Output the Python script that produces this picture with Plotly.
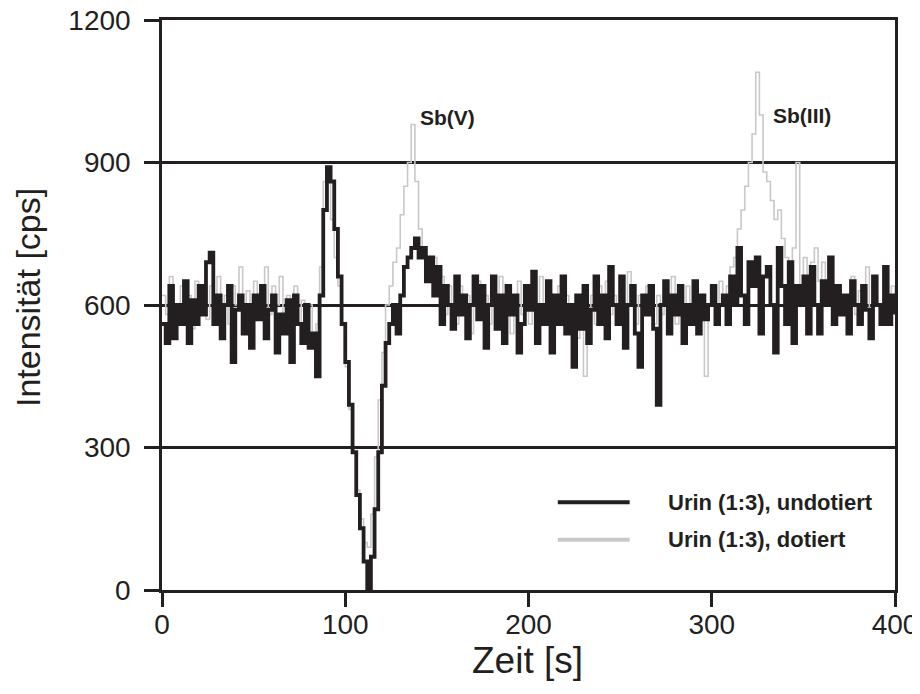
import numpy as np
import plotly.graph_objects as go

# Zeit in s (2-s-Raster)
step = 2
undotiert = [
    560, 520, 640, 530, 600, 560, 650, 520, 610, 560, 640, 580, 690, 710, 560, 620, 530, 600, 640, 480,
    590, 620, 540, 600, 510, 620, 570, 640, 530, 590, 620, 500, 580, 540, 610, 480, 620, 560, 520, 600,
    510, 540, 450, 620, 800, 890, 860, 760, 660, 560, 480, 390, 290, 200, 130, 60, 0, 70, 170, 290,
    430, 520, 560, 600, 540, 620, 680, 700, 720, 740, 700, 720, 650, 700, 620, 680, 560, 640, 600, 550,
    660, 580, 620, 530, 600, 660, 570, 640, 510, 600, 660, 550, 620, 520, 640, 580, 620, 500, 560, 640,
    590, 670, 520, 600, 560, 650, 500, 620, 560, 660, 540, 600, 470, 620, 550, 640, 520, 590, 660, 560,
    620, 530, 680, 600, 560, 660, 510, 600, 640, 540, 470, 620, 580, 640, 550, 390, 600, 650, 540, 620,
    580, 640, 520, 600, 560, 650, 540, 620, 570, 600, 640, 560, 600, 620, 560, 660, 600, 720, 620, 560,
    690, 640, 700, 540, 660, 680, 600, 500, 720, 640, 560, 690, 520, 640, 600, 660, 540, 680, 600, 540,
    650, 600, 700, 560, 640, 580, 620, 540, 650, 600, 560, 640, 590, 530, 660, 600, 560, 680, 560, 620,
    580,
]
dotiert = [
    620, 580, 660, 600, 560, 640, 590, 620, 550, 650, 600, 630, 570, 640, 600, 660, 580, 620, 560, 640,
    600, 680, 590, 630, 560, 650, 600, 620, 680, 580, 640, 600, 660, 570, 620, 590, 640, 560, 610, 540,
    600, 520, 560, 680, 860, 870, 780, 700, 640, 560, 470, 380, 290, 210, 150, 100, 90, 160, 280, 400,
    500, 600, 640, 690, 720, 790, 850, 900, 980, 860, 760, 720, 700, 660, 700, 620, 660, 580, 640, 600,
    560, 640, 590, 620, 540, 610, 650, 580, 620, 560, 640, 590, 660, 570, 620, 540, 600, 650, 580, 620,
    560, 640, 600, 660, 570, 620, 540, 600, 640, 580, 620, 560, 600, 530, 600, 450, 580, 620, 560, 640,
    600, 650, 580, 620, 560, 640, 590, 670, 600, 560, 620, 580, 640, 600, 560, 620, 580, 640, 600, 660,
    560, 620, 590, 640, 580, 620, 560, 600, 450, 600, 620, 580, 650, 600, 640, 680, 700, 760, 800, 850,
    900, 960, 1090, 1000, 880, 860, 820, 780, 800, 740, 700, 680, 720, 900, 640, 700, 660, 690, 720, 650,
    690, 620, 660, 600, 640, 580, 620, 600, 660, 580, 630, 600, 680, 580, 640, 600, 560, 650, 600, 640,
    620,
]
zeit_u = np.arange(len(undotiert)) * step
zeit_d = np.arange(len(dotiert)) * step

x_ticks = [0, 100, 200, 300, 400]
y_ticks = [0, 300, 600, 900, 1200]
peak_labels = ["Sb(V)", "Sb(III)"]
peak_x = [156, 349]
peak_y = [995, 1000]
series_names = ["Urin (1:3), undotiert", "Urin (1:3), dotiert"]

FONT = "Liberation Sans, Arial, sans-serif"
INK = "#231f20"
GREY = "#c8c8c8"

fig = go.Figure()
fig.add_trace(go.Scatter(
    x=zeit_d, y=dotiert, mode="lines", line=dict(color=GREY, width=1.6, shape="hv"),
    name=series_names[1], showlegend=False))
fig.add_trace(go.Scatter(
    x=zeit_u, y=undotiert, mode="lines", line=dict(color=INK, width=3.8, shape="hv"),
    name=series_names[0], showlegend=False))

for lab, px, py in zip(peak_labels, peak_x, peak_y):
    fig.add_annotation(x=px, y=py, text=f"<b>{lab}</b>", showarrow=False,
                       font=dict(family=FONT, size=21, color=INK))

# Legende (Linienmuster + Text)
for name, col, yy in zip(series_names, [INK, GREY], [0.154, 0.088]):
    fig.add_shape(type="line", xref="paper", yref="paper", x0=0.540, x1=0.638, y0=yy, y1=yy,
                  line=dict(color=col, width=4))
    fig.add_annotation(xref="paper", yref="paper", x=0.688, y=yy, xanchor="left", yanchor="middle",
                       text=f"<b>{name}</b>", showarrow=False,
                       font=dict(family=FONT, size=22, color=INK))

# Achsentitel
fig.add_annotation(xref="paper", yref="paper", x=(527 - 162) / 733, y=(590 - 660) / 570,
                   text="Zeit [s]", showarrow=False, xanchor="center", yanchor="middle",
                   font=dict(family=FONT, size=37, color=INK))
fig.add_annotation(xref="paper", yref="paper", x=(28 - 162) / 733, y=(590 - 298) / 570,
                   text="Intensität [cps]", showarrow=False, textangle=-90,
                   xanchor="center", yanchor="middle",
                   font=dict(family=FONT, size=34, color=INK))

fig.update_layout(
    width=912, height=674,
    margin=dict(l=154, r=25, t=12, b=92),
    paper_bgcolor="white", plot_bgcolor="white",
    font=dict(family=FONT, color=INK),
    showlegend=False,
)
fig.update_xaxes(
    range=[0, 400], tickvals=x_ticks, ticks="outside", ticklen=14, tickwidth=2.5, tickcolor=INK,
    showline=True, linewidth=2.5, linecolor=INK, mirror=True, showgrid=False, zeroline=False,
    tickfont=dict(family=FONT, size=28, color=INK), automargin=False, ticklabelstandoff=-6,
    ticklabeloverflow="allow",
)
fig.update_yaxes(
    range=[0, 1200], tickvals=y_ticks, ticks="outside", ticklen=15, tickwidth=2.5, tickcolor=INK,
    showline=True, linewidth=2.5, linecolor=INK, mirror=True, showgrid=True, gridcolor=INK,
    gridwidth=2.5, zeroline=False,
    tickfont=dict(family=FONT, size=28, color=INK), automargin=False, ticklabelstandoff=8,
    ticklabeloverflow="allow",
)

fig.write_html("out.html")
